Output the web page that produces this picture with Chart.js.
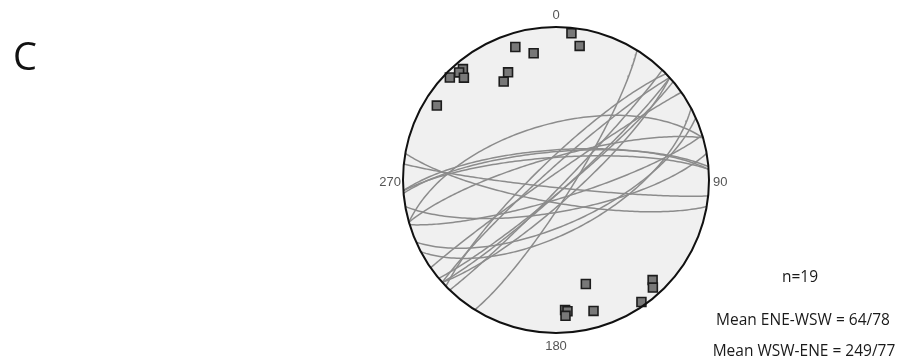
<!DOCTYPE html>
<html lang="en">
<head>
  <meta charset="UTF-8">
  <title>Stereonet C</title>
  <script src="https://cdn.jsdelivr.net/npm/chart.js"></script>
  <style>
    html, body { margin: 0; padding: 0; background: #fff; }
    body { width: 899px; height: 363px; position: relative; overflow: hidden; font-family: "Open Sans", sans-serif; }
    canvas { position: absolute; left: 0; top: 0; }
    .panel { position: absolute; left: 13px; top: 36px; font-size: 38px; line-height: 1; color: #111; }
    .stat { position: absolute; width: 220px; text-align: center; font-size: 15.5px; line-height: 1; color: #1a1a1a; white-space: nowrap; }
  </style>
</head>
<body>
  <canvas id="stereo" width="899" height="363"></canvas>
  <div class="panel">C</div>
  <div class="stat" style="left:690px; top:269px;">n=19</div>
  <div class="stat" style="left:693px; top:312px;">Mean ENE-WSW = 64/78</div>
  <div class="stat" style="left:694px; top:343px;">Mean WSW-ENE = 249/77</div>

  <script>
    // planes, strike/dip (right-hand rule), read from the poles on the net
    const strikes = [96, 100, 73, 80, 50, 48, 44, 48, 66, 62, 32,
                     254, 226, 228, 235, 254, 266, 265, 266];
    const dips    = [86, 78, 80, 73, 84, 84, 86, 79, 66, 62, 81,
                     60, 80, 84, 87, 78, 74, 75, 78];

    const compassAngles = [0, 90, 180, 270];
    const compassLabels = ['0', '90', '180', '270'];

    const rad = d => d * Math.PI / 180;
    const deg = r => r * 180 / Math.PI;

    // equal-area (Schmidt) lower hemisphere
    function project(trend, plunge) {
      const r = Math.SQRT2 * Math.sin(rad(90 - plunge) / 2);
      return { x: r * Math.sin(rad(trend)), y: r * Math.cos(rad(trend)) };
    }

    function greatCircle(strike, dip) {
      const s = rad(strike), d = rad(dip), dd = s + Math.PI / 2;
      const S = [Math.sin(s), Math.cos(s), 0];
      const D = [Math.sin(dd) * Math.cos(d), Math.cos(dd) * Math.cos(d), Math.sin(d)];
      const pts = [];
      for (let a = 0; a <= 180; a += 1.5) {
        const t = rad(a);
        const v = [0, 1, 2].map(k => Math.cos(t) * S[k] + Math.sin(t) * D[k]);
        const plunge = deg(Math.asin(Math.max(-1, Math.min(1, v[2]))));
        const trend = deg(Math.atan2(v[0], v[1]));
        pts.push(project(trend, plunge));
      }
      return pts;
    }

    const poles = strikes.map((s, i) => project((s + 270) % 360, 90 - dips[i]));

    const datasets = [{
      label: 'Poles',
      data: poles,
      pointStyle: 'rect',
      pointRadius: 6.3,
      pointBackgroundColor: '#787878',
      pointBorderColor: '#1c1c1c',
      pointBorderWidth: 1.6,
      showLine: false,
      order: 0
    }];
    strikes.forEach((s, i) => {
      datasets.push({
        label: 'Plane ' + (i + 1),
        data: greatCircle(s, dips[i]),
        showLine: true,
        pointRadius: 0,
        borderColor: '#8c8c8c',
        borderWidth: 1.5,
        order: 1
      });
    });

    // primitive circle and compass labels
    const netFrame = {
      id: 'netFrame',
      beforeDatasetsDraw(chart) {
        const { ctx, scales: { x, y } } = chart;
        const cx = x.getPixelForValue(0), cy = y.getPixelForValue(0);
        const R = x.getPixelForValue(1) - cx;
        ctx.save();
        ctx.beginPath();
        ctx.arc(cx, cy, R, 0, Math.PI * 2);
        ctx.fillStyle = '#f0f0f0';
        ctx.fill();
        ctx.restore();
      },
      afterDatasetsDraw(chart) {
        const { ctx, scales: { x, y } } = chart;
        const cx = x.getPixelForValue(0), cy = y.getPixelForValue(0);
        const R = x.getPixelForValue(1) - cx;
        ctx.save();
        ctx.beginPath();
        ctx.arc(cx, cy, R, 0, Math.PI * 2);
        ctx.lineWidth = 2;
        ctx.strokeStyle = '#111';
        ctx.stroke();
        ctx.font = '13px "Liberation Sans", Arial, sans-serif';
        ctx.fillStyle = '#555';
        ctx.textBaseline = 'middle';
        compassAngles.forEach((a, i) => {
          let px = cx, py = cy + 2;
          if (a === 0) py = cy - R - 12;
          if (a === 180) py = cy + R + 13;
          if (a === 90) px = cx + R + 4;
          if (a === 270) px = cx - R - 2;
          ctx.textAlign = a === 90 ? 'left' : a === 270 ? 'right' : 'center';
          ctx.fillText(compassLabels[i], px, py);
        });
        ctx.restore();
      }
    };

    new Chart(document.getElementById('stereo'), {
      type: 'scatter',
      data: { datasets: datasets },
      options: {
        responsive: false,
        animation: false,
        layout: { padding: { left: 403, right: 190, top: 27, bottom: 30 } },
        scales: {
          x: { min: -1, max: 1, display: false },
          y: { min: -1, max: 1, display: false }
        },
        plugins: { legend: { display: false }, tooltip: { enabled: false } }
      },
      plugins: [netFrame]
    });
  </script>
</body>
</html>
